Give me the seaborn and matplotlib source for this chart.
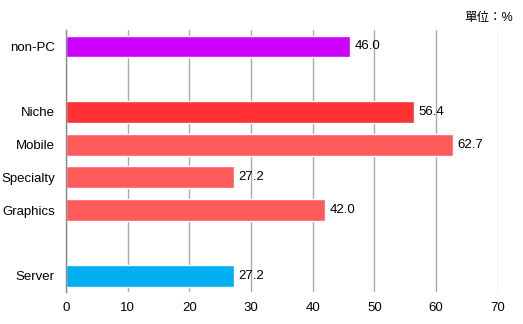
import matplotlib
matplotlib.use("Agg")
import matplotlib.pyplot as plt
import seaborn as sns
import pandas as pd
import numpy as np

# Category slots from top to bottom; blank slots separate the groups
slots = ["non-PC", " ", "Niche", "Mobile", "Specialty", "Graphics", "  ", "Server"]
categories = ["non-PC", "Niche", "Mobile", "Specialty", "Graphics", "Server"]
values = [46.0, 56.4, 62.7, 27.2, 42.0, 27.2]
bar_colors = ["#CC00FF", "#FF3333", "#FF5B5B", "#FF5B5B", "#FF5B5B", "#00B0F0"]
x_ticks = [0, 10, 20, 30, 40, 50, 60, 70]
unit_label = "單位：%"

sns.set_theme(style="white")
plt.rcParams["font.family"] = ["Liberation Sans", "Noto Sans CJK TC", "DejaVu Sans"]

df = pd.DataFrame({"category": categories, "value": values})
palette = dict(zip(categories, bar_colors))

fig = plt.figure(figsize=(5.23, 3.24), dpi=100)
ax = fig.add_axes([0.126, 0.099, 0.826, 0.808])

sns.barplot(data=df, x="value", y="category", hue="category", order=slots,
            palette=palette, legend=False, width=0.67, saturation=1,
            dodge=False, ax=ax)

ax.set_xlim(0, 70)
ax.set_ylim(len(slots) - 0.5, -0.5)
ax.set_xticks(x_ticks)
ax.set_xlabel("")
ax.set_ylabel("")
ax.tick_params(axis="x", length=0, labelsize=9.5, pad=7, colors="black")
ax.tick_params(axis="y", which="major", length=0, labelsize=9.5, pad=8, colors="black")
ax.set_yticks(np.arange(len(slots) + 1) - 0.5, minor=True)
ax.tick_params(axis="y", which="minor", length=3, width=0.8, color="#888888", direction="out")

ax.grid(axis="x", color="#AAAAAA", linewidth=1)
ax.set_axisbelow(True)
for side in ["top", "right", "bottom"]:
    ax.spines[side].set_visible(False)
ax.spines["left"].set_color("#888888")
ax.spines["left"].set_linewidth(1)

# Value labels to the right of each bar
for cat, val in zip(categories, values):
    ax.text(val + 0.8, slots.index(cat), f"{val:.1f}", va="center", ha="left",
            fontsize=9.5, color="black")

fig.text(0.98, 0.945, unit_label, ha="right", va="center", fontsize=9, color="black")

fig.savefig("out.png", dpi=100)
